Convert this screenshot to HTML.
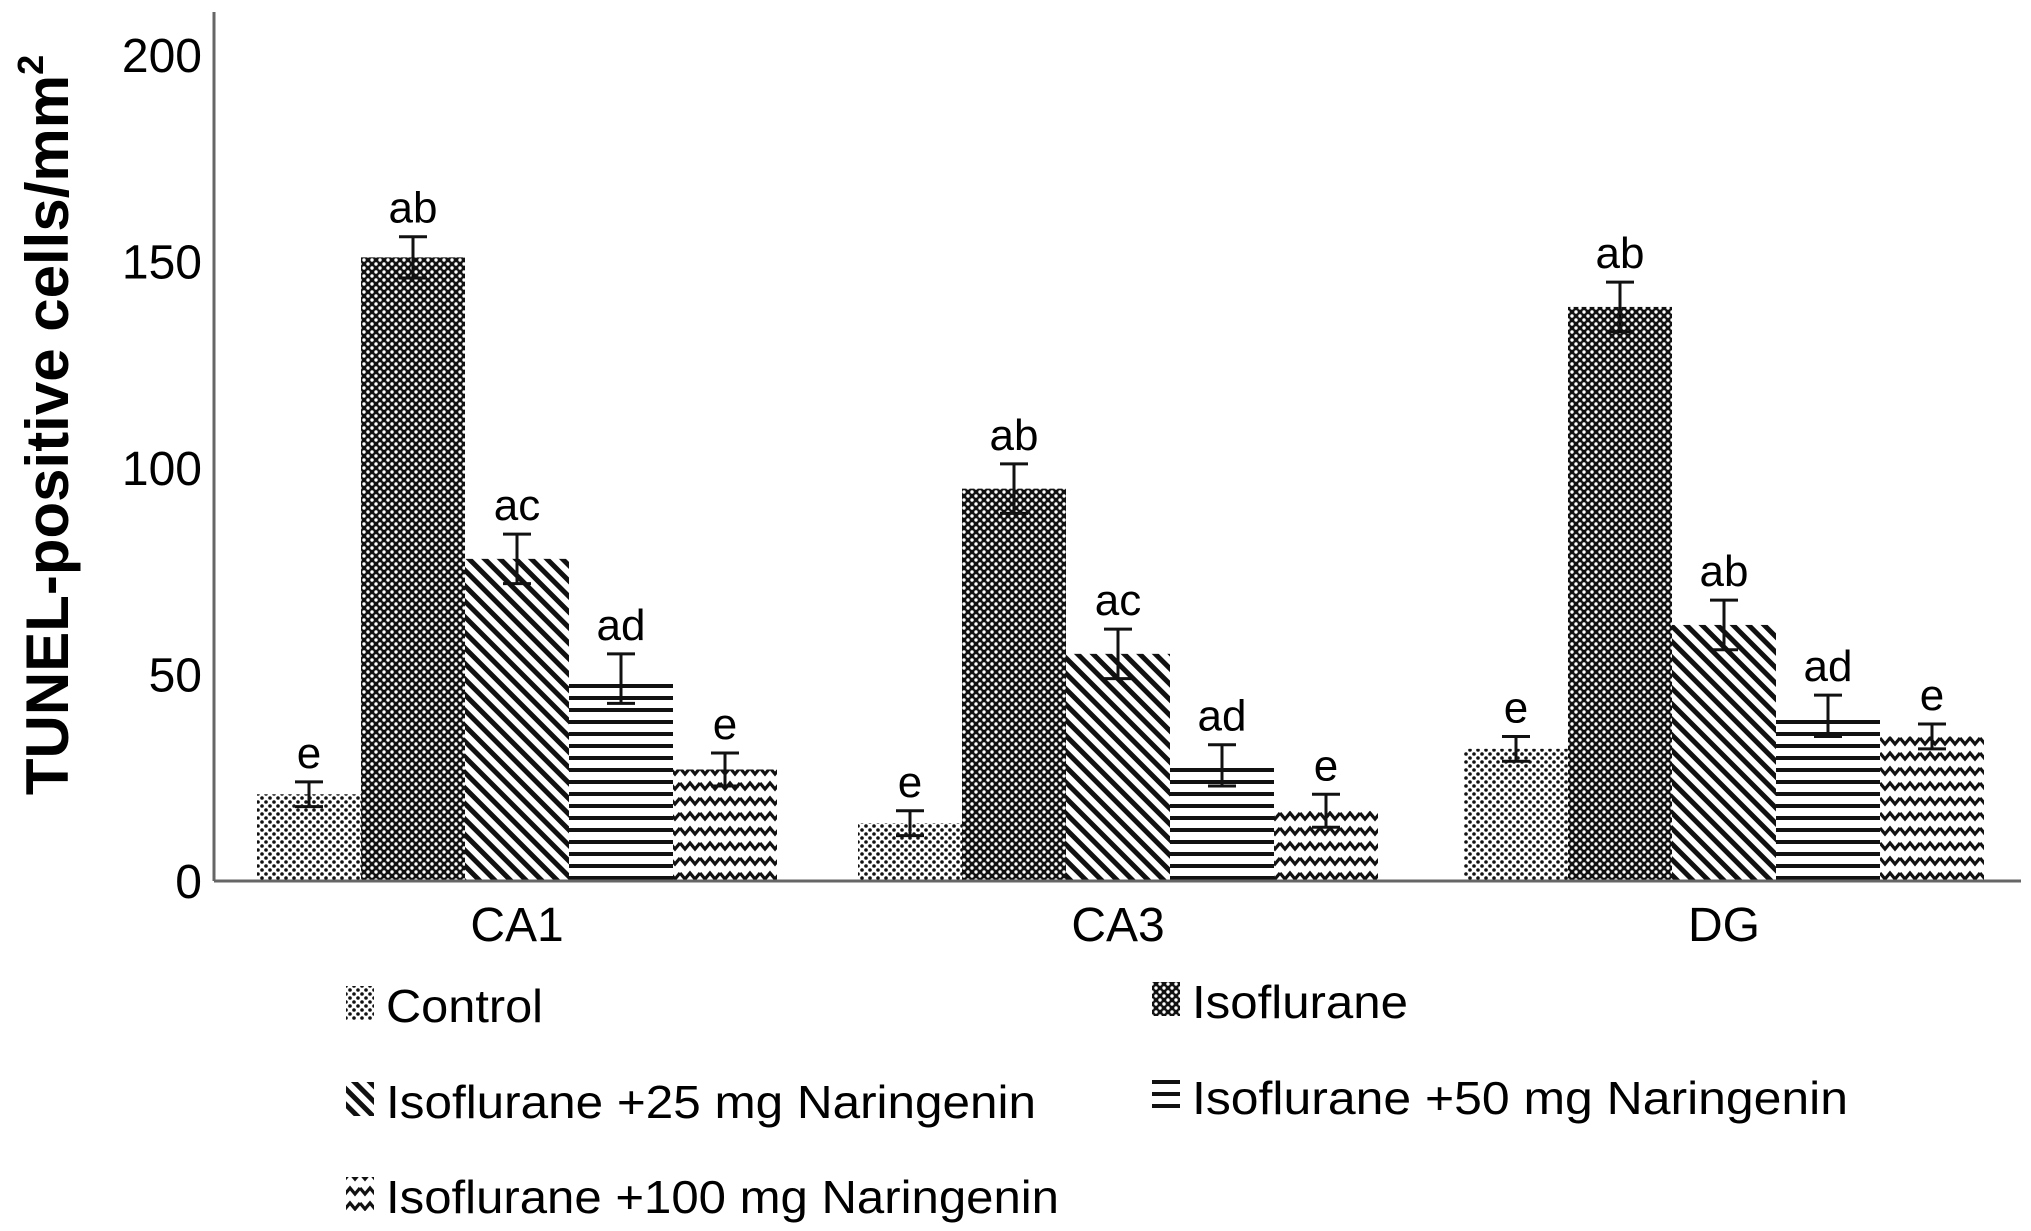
<!DOCTYPE html>
<html><head><meta charset="utf-8"><style>
html,body{margin:0;padding:0;background:#fff;}
svg{display:block;font-family:"Liberation Sans",Arial,sans-serif;}
</style></head><body>
<svg id="chart" width="2031" height="1231" viewBox="0 0 2031 1231">
<defs>
<pattern id="p0" width="8" height="8" patternUnits="userSpaceOnUse"><rect width="8" height="8" fill="#fff"/><circle cx="2" cy="2" r="1.8" fill="#111"/><circle cx="6" cy="6" r="1.8" fill="#111"/></pattern>
<pattern id="p1" width="8" height="8" patternUnits="userSpaceOnUse"><rect width="8" height="8" fill="#111"/><circle cx="4" cy="4" r="1.7" fill="#fff"/><circle cx="0" cy="0" r="1.7" fill="#fff"/><circle cx="8" cy="0" r="1.7" fill="#fff"/><circle cx="0" cy="8" r="1.7" fill="#fff"/><circle cx="8" cy="8" r="1.7" fill="#fff"/></pattern>
<pattern id="p2" width="11" height="11" patternUnits="userSpaceOnUse" patternTransform="rotate(-45)"><rect width="11" height="11" fill="#fff"/><rect x="0" y="0" width="5" height="11" fill="#111"/></pattern>
<pattern id="p3" width="12" height="12" patternUnits="userSpaceOnUse"><rect width="12" height="12" fill="#fff"/><rect x="0" y="0" width="12" height="4" fill="#111"/></pattern>
<pattern id="p4" width="20" height="15" patternUnits="userSpaceOnUse"><rect width="20" height="15" fill="#fff"/><path d="M0 3 L5 9 L10 3 L15 9 L20 3" fill="none" stroke="#111" stroke-width="3.2"/></pattern>
</defs>
<g id="bars"></g>
<line x1="214" y1="12" x2="214" y2="881" stroke="#666" stroke-width="3"/>
<line x1="214" y1="881" x2="2021" y2="881" stroke="#666" stroke-width="3"/>
<g id="yticks"></g>
<g id="xlabels"></g>
<text transform="translate(68,425) rotate(-90)" text-anchor="middle" font-size="60" font-weight="bold"><tspan>TUNEL-positive cells/mm</tspan><tspan font-size="36" dy="-25">2</tspan></text>
<g id="legend"></g>
</svg>
<script>
const categories = ["CA1","CA3","DG"];
const seriesNames = ["Control","Isoflurane","Isoflurane +25 mg Naringenin","Isoflurane +50 mg Naringenin","Isoflurane +100 mg Naringenin"];
const controlVals = [21,14,32];
const isoVals = [151,95,139];
const nar25Vals = [78,55,62];
const nar50Vals = [49,28,40];
const nar100Vals = [27,17,35];
const controlErr = [3,3,3];
const isoErr = [5,6,6];
const nar25Err = [6,6,6];
const nar50Err = [6,5,5];
const nar100Err = [4,4,3];
const controlSig = ["e","e","e"];
const isoSig = ["ab","ab","ab"];
const nar25Sig = ["ac","ac","ab"];
const nar50Sig = ["ad","ad","ad"];
const nar100Sig = ["e","e","e"];
const yTicks = [0,50,100,150,200];
const legendLens = [157,216,650,656,673];

const NS="http://www.w3.org/2000/svg";
const y0=881, yTop=55, yMax=200;
function yS(v){return y0-(v/yMax)*(y0-yTop);}
const groupStart=[257,858,1464], barW=104;
function xS(g,s){return groupStart[g]+s*barW;}
function mk(tag,attrs,parent,txt){const e=document.createElementNS(NS,tag);for(const k in attrs)e.setAttribute(k,attrs[k]);if(txt!==undefined)e.textContent=txt;parent.appendChild(e);return e;}
const vals=[controlVals,isoVals,nar25Vals,nar50Vals,nar100Vals];
const errs=[controlErr,isoErr,nar25Err,nar50Err,nar100Err];
const sigs=[controlSig,isoSig,nar25Sig,nar50Sig,nar100Sig];
const bars=document.getElementById('bars');
for(let g=0;g<categories.length;g++){
  for(let s=0;s<5;s++){
    const v=vals[s][g], x=xS(g,s);
    const r=mk('rect',{x:x,y:yS(v),width:barW,height:y0-yS(v),fill:'url(#p'+s+')'},bars);
    
    
    const cx=x+barW/2, e=errs[s][g];
    const eb=mk('path',{d:`M${cx} ${yS(v+e)} V${yS(v-e)} M${cx-14} ${yS(v+e)} H${cx+14} M${cx-14} ${yS(v-e)} H${cx+14}`,stroke:'#111','stroke-width':3,fill:'none'},bars);
    
    
    const t=mk('text',{x:cx,y:yS(v+e)-14,'text-anchor':'middle','font-size':44},bars,sigs[s][g]);
    
    
  }
  const cl=mk('text',{x:groupStart[g]+barW*2.5,y:941,'text-anchor':'middle','font-size':48},document.getElementById('xlabels'),categories[g]);
  
  
}
const yt=document.getElementById('yticks');
yTicks.forEach(v=>{
  const t=mk('text',{x:202,y:yS(v)+17,'text-anchor':'end','font-size':48},yt,String(v));
  
  
});
const legPos=[[346,1022],[1152,1018],[346,1118],[1152,1114],[346,1213]];
const leg=document.getElementById('legend');
seriesNames.forEach((n,i)=>{
  const [x,y]=legPos[i];
  const sw=mk('rect',{x:x,y:y-36,width:28,height:34,fill:'url(#p'+i+')'},leg);
  
  
  const t=mk('text',{x:x+40,y:y,'font-size':46,textLength:legendLens[i],lengthAdjust:'spacingAndGlyphs'},leg,n);
  
  
});
</script>
</body></html>
